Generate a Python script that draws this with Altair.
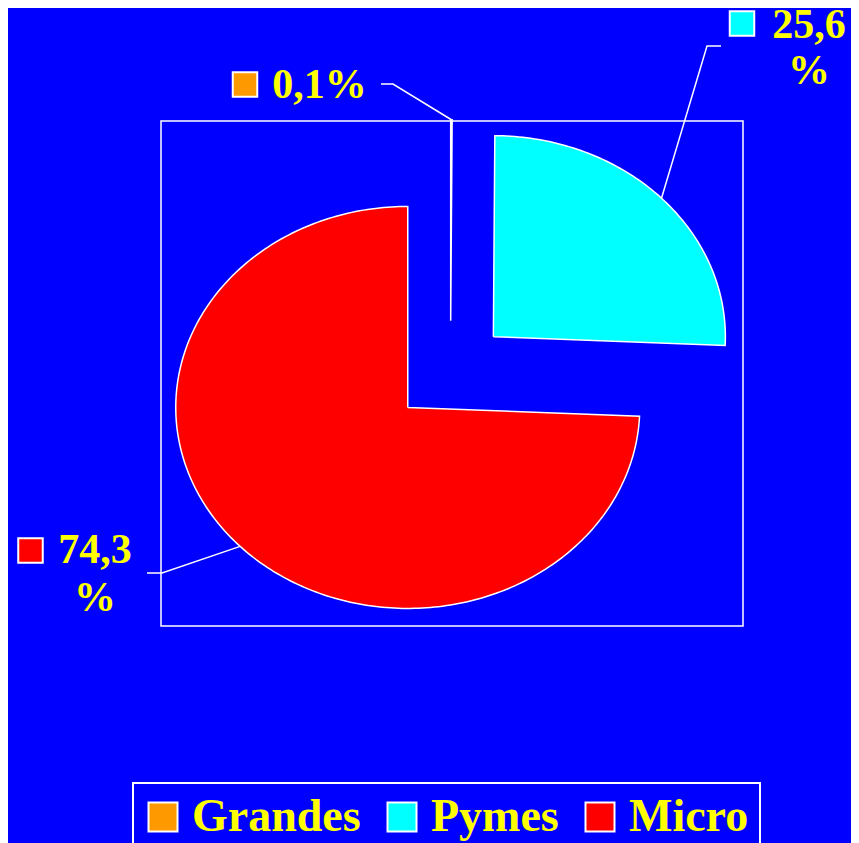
import math
import altair as alt
import pandas as pd

# ---- data ----
categories = ["Grandes", "Pymes", "Micro"]
values = [0.1, 25.6, 74.3]
label_texts = ["0,1%", "25,6\n%", "74,3\n%"]
colors = ["#FF9900", "#00FFFF", "#FF0000"]

# ---- style / geometry ----
W, H = 843, 835
CX, CY = 442.5, 364.0      # pie centre (px)
RX, RY = 232.0, 201.0      # pie radii (px)
EXPLODE = 0.255            # explode distance (unit radius)
FONT = "Liberation Serif"
YELLOW = "#FFFF00"
BLUE = "#0000FF"


def ux(px):
    return (px - CX) / RX


def uy(py):
    return (CY - py) / RY


# build slice polygons in unit-circle space
total = sum(values)
pie_rows, leader_rows = [], []
start = 0.0
mids = []
for cat, v in zip(categories, values):
    span = v / total * 360.0
    a0, a1 = start, start + span
    mid = math.radians((a0 + a1) / 2)
    ox, oy = EXPLODE * math.sin(mid), EXPLODE * math.cos(mid)
    pts = [(ox, oy)]
    n = max(2, int(math.ceil(span / 1.0)) + 1)
    for k in range(n):
        t = math.radians(a0 + (a1 - a0) * k / (n - 1))
        pts.append((ox + math.sin(t), oy + math.cos(t)))
    pts.append((ox, oy))
    for i, (x, y) in enumerate(pts):
        pie_rows.append({"cat": cat, "i": i, "x": x, "y": y})
    mids.append((cat, ox + math.sin(mid), oy + math.cos(mid)))
    start = a1

pie_df = pd.DataFrame(pie_rows)

# label anchors (px): elbow, end of leader; text position; swatch position
anchors = {
    "Grandes": dict(elbow=(385, 76), end=(373, 76), text=(311.5, 90), sw=(237, 76.5), lh=46),
    "Pymes": dict(elbow=(699, 38), end=(713, 38), text=(801, 30), sw=(734, 15.5), lh=46),
    "Micro": dict(elbow=(154, 565), end=(139, 565), text=(87, 555), sw=(22.5, 542.5), lh=48),
}
for cat, mx, my in mids:
    a = anchors[cat]
    leader_rows.append({"cat": cat, "i": 0, "x": mx, "y": my})
    leader_rows.append({"cat": cat, "i": 1, "x": ux(a["elbow"][0]), "y": uy(a["elbow"][1])})
    leader_rows.append({"cat": cat, "i": 2, "x": ux(a["end"][0]), "y": uy(a["end"][1])})
leader_df = pd.DataFrame(leader_rows)

xs = alt.Scale(domain=[ux(0), ux(W)], nice=False, zero=False)
ys = alt.Scale(domain=[uy(H), uy(0)], nice=False, zero=False)

box = alt.Chart(pd.DataFrame({"a": [0]})).mark_rect(
    fill=None, stroke="white", strokeWidth=1.5
).encode(
    x=alt.value(153), x2=alt.value(735), y=alt.value(113), y2=alt.value(618)
)

pie = alt.Chart(pie_df).mark_line(strokeWidth=1.5, strokeJoin="miter").encode(
    x=alt.X("x:Q", scale=xs, axis=None),
    y=alt.Y("y:Q", scale=ys, axis=None),
    order=alt.Order("i:Q"),
    stroke=alt.value("white"),
    fill=alt.Fill(
        "cat:N",
        scale=alt.Scale(domain=categories, range=colors),
        legend=alt.Legend(
            orient="none", legendX=125, legendY=775, direction="horizontal",
            title=None, symbolType="square", symbolSize=841,
            symbolStrokeColor="white", symbolStrokeWidth=2, symbolOpacity=1,
            symbolOffset=-4,
            labelFont=FONT, labelFontWeight="bold", labelFontSize=46,
            labelColor=YELLOW, labelOffset=6, columnPadding=22,
            padding=11, strokeColor="white", labelLimit=0,
        ),
    ),
)

leaders = alt.Chart(leader_df).mark_line(stroke="white", strokeWidth=1.5).encode(
    x=alt.X("x:Q", scale=xs, axis=None),
    y=alt.Y("y:Q", scale=ys, axis=None),
    order=alt.Order("i:Q"),
    detail="cat:N",
)

layers = [box, pie, leaders]
for cat, txt, col in zip(categories, label_texts, colors):
    a = anchors[cat]
    layers.append(
        alt.Chart(pd.DataFrame({"a": [0]})).mark_text(
            font=FONT, fontWeight="bold", fontSize=42, color=YELLOW,
            align="center", baseline="alphabetic", lineBreak="\n", lineHeight=a["lh"],
        ).encode(x=alt.value(a["text"][0]), y=alt.value(a["text"][1]), text=alt.value(txt))
    )
    layers.append(
        alt.Chart(pd.DataFrame({"a": [0]})).mark_square(
            size=600, filled=True, fill=col, stroke="white", strokeWidth=2, opacity=1
        ).encode(x=alt.value(a["sw"][0]), y=alt.value(a["sw"][1]))
    )

chart = alt.layer(*layers).properties(
    width=W, height=H, padding=0, background=BLUE,
    autosize=alt.AutoSizeParams(type="none"),
).configure_view(stroke=None).configure_legend(strokeWidth=2)

chart.save("out.html", embed_options={"renderer": "svg", "actions": False})
